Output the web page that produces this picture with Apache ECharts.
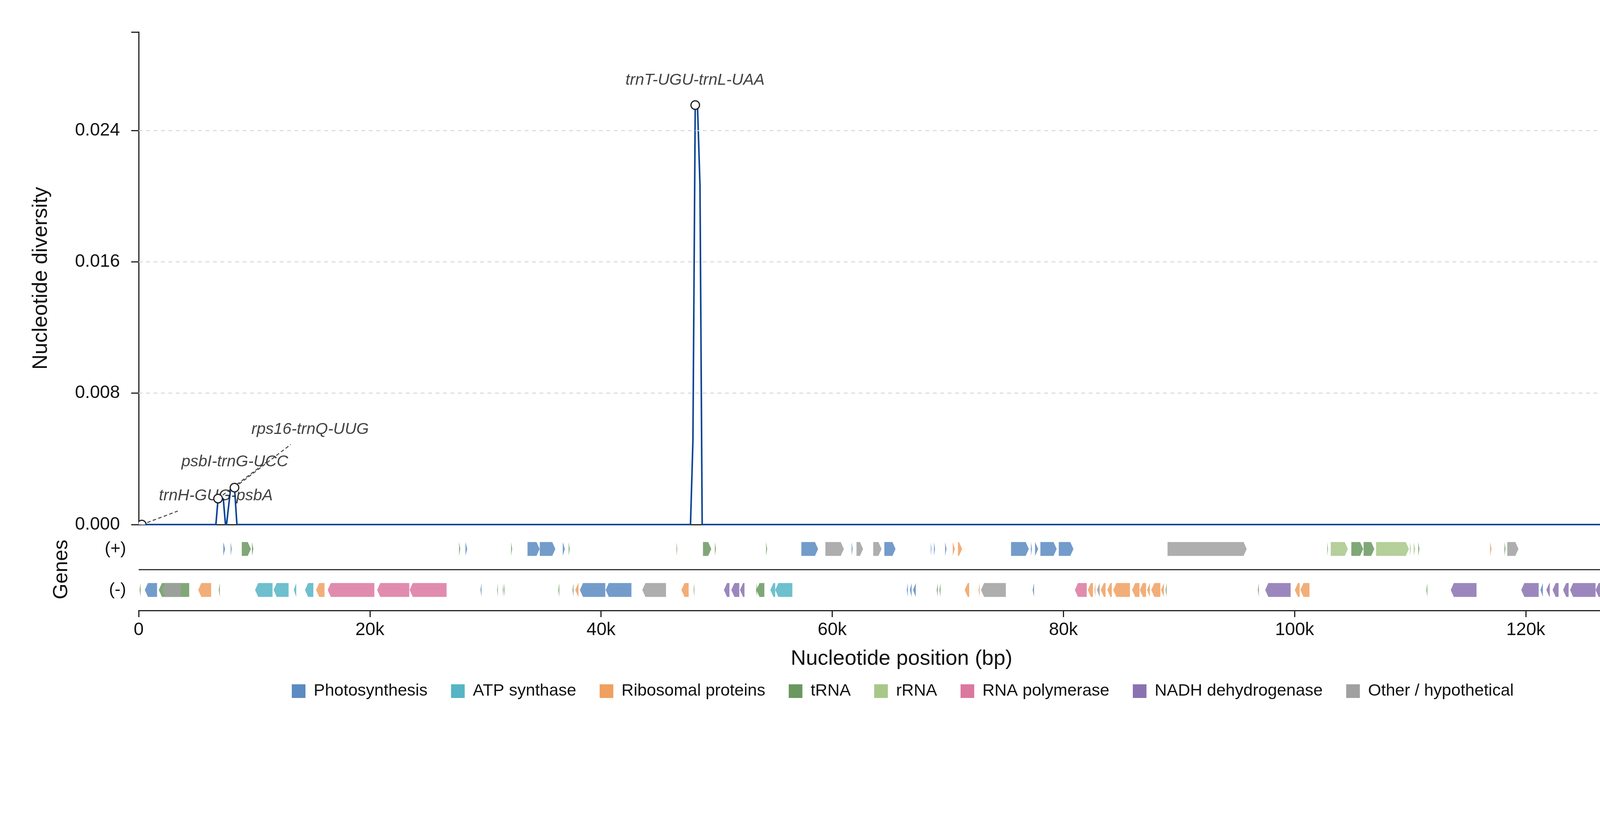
<!DOCTYPE html>
<html>
<head>
<meta charset="utf-8">
<title>Nucleotide diversity</title>
<script src="https://cdn.jsdelivr.net/npm/echarts@6/dist/echarts.min.js"></script>
</head>
<body style="margin:0;background:#fff">
<div id="container" style="width:4322px;height:2102px"></div>
<script>
// gene categories and their colours
var categories = ['Photosynthesis', 'ATP synthase', 'Ribosomal proteins', 'tRNA', 'rRNA',
  'RNA polymerase', 'NADH dehydrogenase', 'Other / hypothetical'];
var catColors = ['#5b8bc2', '#55b5c5', '#f0a060', '#6a9860', '#a8c888', '#dc78a0', '#8a72b2', '#a0a0a0'];

// sliding-window nucleotide diversity
var divPos = [250, 6680, 6870, 7100, 7320, 7510, 7600, 7940, 8290, 8500, 47740, 47950, 48150, 48350, 48560, 48750, 131800];
var divVal = [0, 0, 0.00158, 0.00158, 0.00158, 0, 0, 0.0021, 0.00225, 0, 0, 0.0051, 0.02555, 0.0254, 0.0207, 0, 0];

// annotated hotspots: point, label centre and leader end
var annotNames = ['trnH-GUG-psbA', 'psbI-trnG-UCC', 'rps16-trnQ-UUG', 'trnT-UGU-trnL-UAA'];
var annotX = [270, 6870, 8290, 48150];
var annotY = [0, 0.00158, 0.00225, 0.02555];
var labelX = [6680, 8320, 14830, 48130];
var labelY = [0.00174, 0.00381, 0.0058, 0.02707];
var leaderX = [3380, 11070, 13160, null];
var leaderY = [0.00082, 0.00381, 0.00488, null];

// genes: [start, end, category index]
var plusGenes = [
  [7320, 7480, 0], [7960, 8050, 0], [8920, 9710, 3], [9800, 9920, 3], [27720, 27820, 3],
  [28270, 28420, 0], [32220, 32310, 3], [33640, 34690, 0], [34700, 36050, 0], [36690, 36870, 0],
  [37200, 37290, 3], [46530, 46590, 3], [48820, 49540, 3], [49850, 49940, 3], [54280, 54370, 3],
  [57330, 58780, 0], [59410, 61010, 7], [61680, 61770, 0], [62100, 62670, 7], [63550, 64270, 7],
  [64510, 65480, 0], [68530, 68590, 0], [68800, 68890, 0], [69770, 69890, 0], [70430, 70610, 2],
  [70880, 71240, 2], [75470, 77010, 0], [77190, 77280, 0], [77550, 77820, 0], [78010, 79420, 0],
  [79600, 80870, 0], [89010, 95860, 7], [102830, 102890, 3], [103130, 104610, 4], [104910, 105940, 3],
  [105970, 106900, 3], [107050, 109890, 4], [109980, 110070, 4], [110310, 110430, 4], [110700, 110800, 3],
  [116920, 117040, 2], [118160, 118250, 3], [118400, 119370, 7]
];
var minusGenes = [
  [80, 170, 3], [530, 1590, 0], [1740, 4370, 3], [2040, 3640, 7], [5150, 6270, 2],
  [6930, 7020, 3], [10070, 11580, 1], [11670, 12970, 1], [13420, 13630, 1], [14390, 15110, 1],
  [15350, 16080, 2], [16350, 20390, 5], [20630, 23410, 5], [23440, 26640, 5], [29570, 29660, 0],
  [31010, 31070, 3], [31500, 31560, 3], [31610, 31670, 3], [36300, 36390, 3], [37530, 37620, 3],
  [37770, 38050, 2], [38170, 40370, 0], [40400, 42630, 0], [43570, 45620, 7], [46950, 47580, 2],
  [48010, 48070, 3], [50630, 51110, 6], [51270, 51960, 6], [52020, 52410, 6], [53410, 53500, 3],
  [53440, 54130, 3], [54650, 55070, 1], [55070, 56550, 1], [66450, 66540, 0], [66720, 66870, 0],
  [66990, 67230, 0], [69040, 69130, 3], [69280, 69370, 3], [71460, 71850, 2], [72660, 72750, 2],
  [72870, 75020, 7], [77340, 77460, 0], [80990, 82020, 5], [82110, 82560, 2], [82680, 82770, 2],
  [82900, 83140, 7], [83230, 83650, 2], [83800, 84190, 2], [84310, 85760, 2], [85940, 86580, 2],
  [86610, 87150, 2], [87240, 87480, 2], [87600, 88390, 2], [88450, 88690, 2], [88840, 88930, 3],
  [96820, 96910, 3], [97460, 99660, 6], [100020, 100440, 2], [100500, 101290, 2], [111400, 111490, 3],
  [113510, 115740, 6], [119610, 121120, 6], [121270, 121480, 0], [121780, 122080, 6], [122320, 122840, 6],
  [123230, 123710, 6], [123830, 126040, 6], [126040, 127240, 6], [127390, 127640, 2]
];

var gridValues = [0.008, 0.016, 0.024];
var genomeLength = 132000;

var FONT = 'Liberation Sans';
var dom = document.getElementById('container');
var myChart = echarts.init(dom);

function arrowItem(color) {
  return function (params, api) {
    var yv = api.value(2);
    var p1 = api.coord([api.value(0), yv]);
    var p2 = api.coord([api.value(1), yv]);
    var half = api.size([0, 0.17])[1];
    var head = Math.min(8, p2[0] - p1[0]);
    var top = p1[1] - half, bot = p1[1] + half, mid = p1[1];
    var pts;
    if (yv > 1) {
      pts = [[p1[0], top], [p2[0] - head, top], [p2[0], mid], [p2[0] - head, bot], [p1[0], bot]];
    } else {
      pts = [[p2[0], top], [p1[0] + head, top], [p1[0], mid], [p1[0] + head, bot], [p2[0], bot]];
    }
    return { type: 'polygon', shape: { points: pts }, style: { fill: color, opacity: 0.85 } };
  };
}

var divData = divPos.map(function (p, i) { return [p, divVal[i]]; });
var annotData = annotX.map(function (x, i) { return [x, annotY[i]]; });
var labelData = labelX.map(function (x, i) { return { name: annotNames[i], value: [x, labelY[i]] }; });
var leaderLines = [];
annotX.forEach(function (x, i) {
  if (leaderX[i] !== null) {
    leaderLines.push([{ coord: [x, annotY[i]] }, { coord: [leaderX[i], leaderY[i]] }]);
  }
});

var series = [];
categories.forEach(function (name, ci) {
  var data = [];
  plusGenes.forEach(function (g) { if (g[2] === ci) data.push([g[0], g[1], 1.5]); });
  minusGenes.forEach(function (g) { if (g[2] === ci) data.push([g[0], g[1], 0.5]); });
  series.push({
    name: name,
    type: 'custom',
    xAxisIndex: 1,
    yAxisIndex: 1,
    clip: false,
    itemStyle: { color: catColors[ci] },
    encode: { x: [0, 1], y: 2 },
    renderItem: arrowItem(catColors[ci]),
    data: data,
    markLine: ci === 0 ? {
      silent: true,
      symbol: 'none',
      precision: 4,
      label: { show: false },
      lineStyle: { color: '#333', width: 3, type: 'solid' },
      data: [{ yAxis: 1 }]
    } : undefined
  });
});

series.push({
  name: 'diversity',
  type: 'line',
  xAxisIndex: 0,
  yAxisIndex: 0,
  data: divData,
  showSymbol: false,
  z: 3,
  lineStyle: { color: '#0b4495', width: 4 },
  markLine: {
    silent: true,
    symbol: 'none',
    precision: 6,
    label: { show: false },
    lineStyle: { color: '#d3d9df', width: 2.5, type: [10, 9] },
    data: gridValues.map(function (v) { return { yAxis: v }; })
  }
});

series.push({
  name: 'labels',
  type: 'scatter',
  xAxisIndex: 0,
  yAxisIndex: 0,
  data: labelData,
  symbolSize: 0.1,
  itemStyle: { color: 'rgba(0,0,0,0)' },
  z: 4,
  label: {
    show: true,
    position: 'inside',
    formatter: '{b}',
    fontFamily: FONT,
    fontStyle: 'italic',
    fontSize: 41,
    color: '#111'
  },
  markLine: {
    silent: true,
    symbol: 'none',
    precision: 6,
    label: { show: false },
    lineStyle: { color: '#444', width: 2.5, type: [9, 6] },
    data: leaderLines
  }
});

// hotspot circles, clipped to the plot like the reference
series.push({
  name: 'hotspots',
  type: 'custom',
  xAxisIndex: 0,
  yAxisIndex: 0,
  clip: true,
  z: 5,
  data: annotData,
  encode: { x: 0, y: 1 },
  renderItem: function (params, api) {
    var p = api.coord([api.value(0), api.value(1)]);
    return {
      type: 'circle',
      shape: { cx: p[0], cy: p[1], r: 11 },
      style: { fill: '#fff', stroke: '#222', lineWidth: 3 }
    };
  }
});

var option = {
  animation: false,
  backgroundColor: '#fff',
  textStyle: { fontFamily: FONT },
  grid: [
    { left: 355, right: 61, top: 82, height: 1261 },
    { left: 355, right: 61, top: 1353, height: 210 }
  ],
  legend: {
    data: categories,
    left: 742,
    top: 1743,
    icon: 'rect',
    itemWidth: 35,
    itemHeight: 35,
    itemGap: 60,
    textStyle: { fontFamily: FONT, fontSize: 43, color: '#111', padding: [0, 0, 0, 16] }
  },
  xAxis: [
    {
      gridIndex: 0, type: 'value', min: 0, max: genomeLength,
      axisLine: { show: true, lineStyle: { color: '#222', width: 3 } },
      axisTick: { show: false }, axisLabel: { show: false }, splitLine: { show: false }
    },
    {
      gridIndex: 1, type: 'value', min: 0, max: genomeLength, interval: 20000,
      axisLine: { show: true, lineStyle: { color: '#222', width: 3 } },
      axisTick: { show: true, length: 17, lineStyle: { color: '#222', width: 3 } },
      axisLabel: {
        fontSize: 46, color: '#111', margin: 27,
        formatter: function (v) { return v === 0 ? '0' : Math.round(v / 1000) + 'k'; }
      },
      splitLine: { show: false },
      name: 'Nucleotide position (bp)', nameLocation: 'middle', nameGap: 97,
      nameTextStyle: { fontSize: 54, color: '#111' }
    }
  ],
  yAxis: [
    {
      gridIndex: 0, type: 'value', min: 0, max: 0.03, interval: 0.008,
      axisLine: { show: true, lineStyle: { color: '#222', width: 3 } },
      axisTick: { show: true, length: 19, lineStyle: { color: '#222', width: 3 } },
      axisLabel: {
        fontSize: 46, color: '#111', margin: 48,
        formatter: function (v) { return v > 0.025 ? '' : v.toFixed(3); }
      },
      splitLine: { show: false },
      name: 'Nucleotide diversity', nameLocation: 'middle', nameGap: 223,
      nameTextStyle: { fontSize: 54, color: '#111' }
    },
    {
      gridIndex: 1, type: 'value', min: 0, max: 2, interval: 0.5,
      axisLine: { show: false }, axisTick: { show: false }, splitLine: { show: false },
      axisLabel: {
        fontSize: 44, color: '#111', margin: 32,
        formatter: function (v) { return v === 1.5 ? '(+)' : (v === 0.5 ? '(-)' : ''); }
      },
      name: 'Genes', nameLocation: 'middle', nameGap: 171,
      nameTextStyle: { fontSize: 52, color: '#111' }
    }
  ],
  series: series
};

myChart.setOption(option);
</script>
</body>
</html>
